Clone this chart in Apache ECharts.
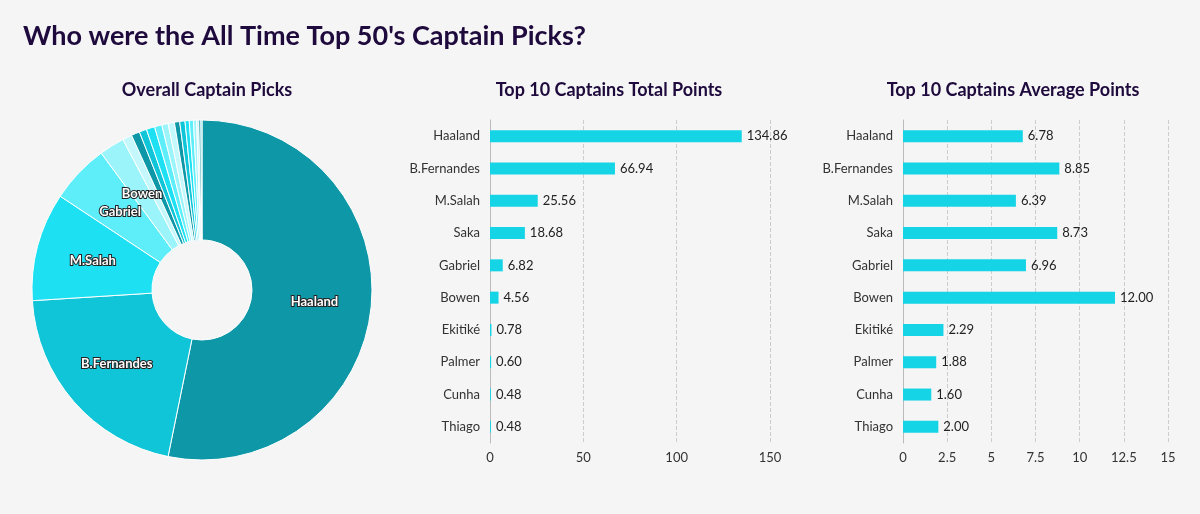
<!DOCTYPE html><html><head><meta charset="utf-8"><script src="https://cdn.jsdelivr.net/npm/echarts@6/dist/echarts.min.js"></script>
<style>html,body{margin:0;background:#f5f5f5}#c{width:1200px;height:514px}</style></head><body><div id="c"></div><script>
const players=['Haaland','B.Fernandes','M.Salah','Saka','Gabriel','Bowen','Ekitiké','Palmer','Cunha','Thiago'];
const totalPts=[134.86,66.94,25.56,18.68,6.82,4.56,0.78,0.60,0.48,0.48];
const avgPts=[6.78,8.85,6.39,8.73,6.96,12.00,2.29,1.88,1.60,2.00];
const pieNames=['Haaland','B.Fernandes','M.Salah','Gabriel','Bowen','Saka','Ekitiké','Palmer','Cunha','Thiago','Other A','Other B','Other C','Other D','Other E','Other F','Other G','Other H','Other I','Other J'];
const pieVals=[53.2,20.8,10.3,5.6,2.4,0.9,0.8,0.7,0.8,0.7,0.6,0.6,0.5,0.5,0.4,0.4,0.3,0.2,0.2,0.1];
const labelled=['Haaland','B.Fernandes','M.Salah','Gabriel','Bowen'];
const palette=['#0e97a6','#11c5d9','#1de1f2','#5eeefa','#9cf4fb','#c4f8fc'];
const font='Lato';
const ch=echarts.init(document.getElementById('c'));
const catAxis=(i)=>({type:'category',gridIndex:i,data:players,inverse:true,axisTick:{show:false},axisLine:{lineStyle:{color:'#bbb'}},axisLabel:{color:'#333',fontSize:13,fontFamily:font,margin:10}});
const valAxis=(i,max,iv)=>({type:'value',gridIndex:i,min:0,max:max,interval:iv,axisLabel:{color:'#333',fontSize:13,fontFamily:font},splitLine:{lineStyle:{type:'dashed',color:'#ccc'}},axisLine:{show:false}});
ch.setOption({backgroundColor:'#f5f5f5',
title:[{text:"Who were the All Time Top 50's Captain Picks?",left:18,top:18,textStyle:{fontSize:27,fontWeight:'bold',color:'#1e0a3c',fontFamily:font}},
{text:'Overall Captain Picks',left:202,textAlign:'center',top:76,textStyle:{fontSize:18,fontWeight:'bold',color:'#1e0a3c',fontFamily:font}},
{text:'Top 10 Captains Total Points',left:604,textAlign:'center',top:76,textStyle:{fontSize:18,fontWeight:'bold',color:'#1e0a3c',fontFamily:font}},
{text:'Top 10 Captains Average Points',left:1008,textAlign:'center',top:76,textStyle:{fontSize:18,fontWeight:'bold',color:'#1e0a3c',fontFamily:font}}],
grid:[{left:490,width:280,top:120,height:323},{left:903,width:265,top:120,height:323}],
xAxis:[valAxis(0,150,50),valAxis(1,15,2.5)],
yAxis:[catAxis(0),catAxis(1)],
series:[
{type:'pie',center:[202,290],radius:[50,170],startAngle:90,clockwise:true,silent:true,
 data:pieNames.map((n,i)=>({name:n,value:pieVals[i],itemStyle:{color:palette[i%6]},label:{show:labelled.includes(n)}})),
 itemStyle:{borderColor:'#fff',borderWidth:1},
 label:{position:'inside',formatter:'{b}',color:'#fff',fontSize:13,fontWeight:'bold',fontFamily:font,textBorderColor:'#222',textBorderWidth:2},labelLine:{show:false}},
{type:'bar',xAxisIndex:0,yAxisIndex:0,data:totalPts,barWidth:12,itemStyle:{color:'#14d4e6'},label:{show:true,position:'right',formatter:p=>p.value.toFixed(2),color:'#222',fontSize:13,fontFamily:font}},
{type:'bar',xAxisIndex:1,yAxisIndex:1,data:avgPts,barWidth:12,itemStyle:{color:'#14d4e6'},label:{show:true,position:'right',formatter:p=>p.value.toFixed(2),color:'#222',fontSize:13,fontFamily:font}}
]});
</script></body></html>
